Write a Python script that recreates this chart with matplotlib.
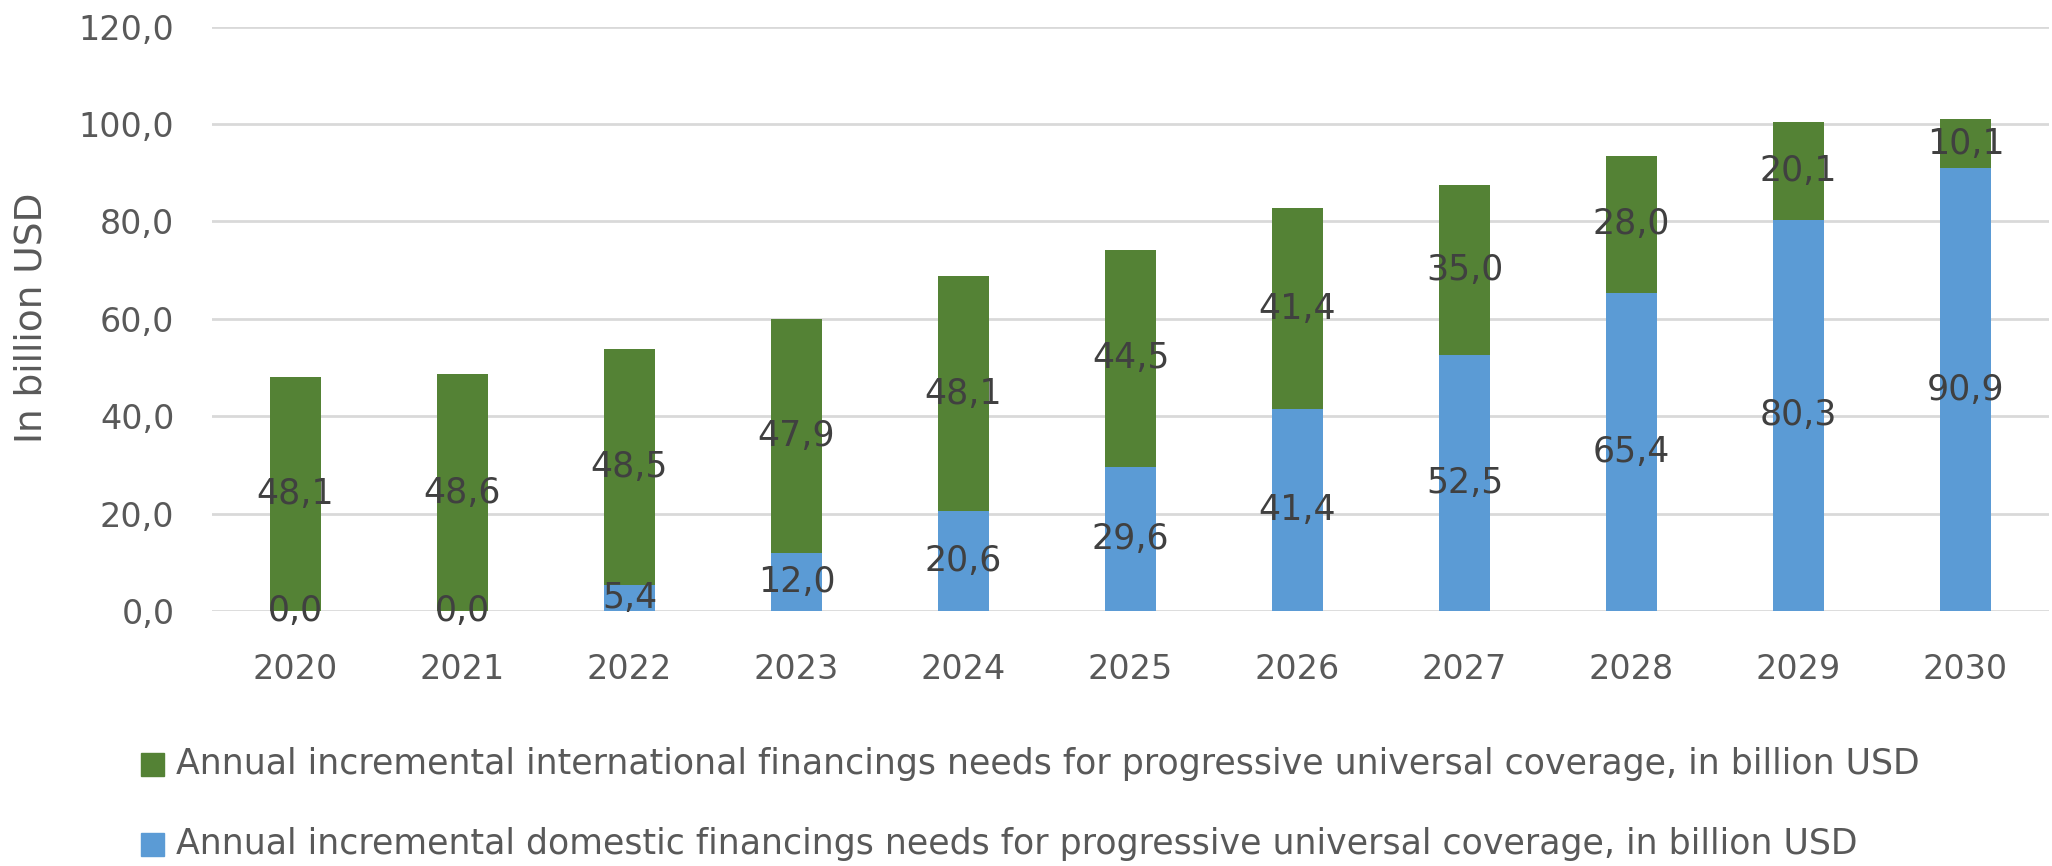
import matplotlib
matplotlib.use("Agg")
import matplotlib.pyplot as plt
from matplotlib.patches import Rectangle

# financing needs per year, in billion USD
years = ["2020", "2021", "2022", "2023", "2024", "2025", "2026", "2027", "2028", "2029", "2030"]
domestic = [0.0, 0.0, 5.4, 12.0, 20.6, 29.6, 41.4, 52.5, 65.4, 80.3, 90.9]
international = [48.1, 48.6, 48.5, 47.9, 48.1, 44.5, 41.4, 35.0, 28.0, 20.1, 10.1]

intl_label = "Annual incremental international financings needs for progressive universal coverage, in billion USD"
dom_label = "Annual incremental domestic financings needs for progressive universal coverage, in billion USD"

GREEN = "#548235"
BLUE = "#5b9bd5"
TEXT = "#404040"
TICK = "#595959"

plt.rcParams["font.family"] = ["DejaVu Sans"]

W, H = 2052, 866


def fmt(v):
    return f"{v:.1f}".replace(".", ",")


fig = plt.figure(figsize=(W / 100, H / 100), dpi=100)
ax = fig.add_axes([212 / W, 255 / H, 1837 / W, 584.4 / H])

x = list(range(len(years)))
width = 0.31
ax.bar(x, domestic, width, color=BLUE, zorder=3)
ax.bar(x, international, width, bottom=domestic, color=GREEN, zorder=3)

# centred value labels inside each segment
for i in x:
    ax.text(i, domestic[i] / 2, fmt(domestic[i]), ha="center", va="center",
            fontsize=25, color=TEXT, zorder=4)
    ax.text(i, domestic[i] + international[i] / 2, fmt(international[i]),
            ha="center", va="center", fontsize=25, color=TEXT, zorder=4)

ax.set_xlim(-0.5, len(years) - 0.5)
ax.set_ylim(0, 120)
ax.set_yticks(range(0, 121, 20))
ax.set_yticklabels([fmt(v) for v in range(0, 121, 20)])
ax.set_xticks(x)
ax.set_xticklabels(years)
ax.tick_params(axis="both", length=0, labelsize=24, colors=TICK)
ax.tick_params(axis="x", pad=30)
ax.tick_params(axis="y", pad=27)
ax.grid(axis="y", color="#d9d9d9", linewidth=2, zorder=0)
for s in ax.spines.values():
    s.set_visible(False)

fig.text(32 / W, 1 - 318 / H, "In billion USD", rotation=90, ha="center", va="center",
         fontsize=27, color=TICK)

# legend: one entry per row below the axis
rows = [(intl_label, GREEN, 764), (dom_label, BLUE, 844)]
for label, color, yc in rows:
    fig.patches.append(Rectangle((141 / W, 1 - (yc + 11.5) / H), 23 / W, 23 / H,
                                 transform=fig.transFigure, color=color))
    fig.text(176 / W, 1 - yc / H, label, ha="left", va="center", fontsize=25, color=TICK)

fig.savefig("out.png", dpi=100)
